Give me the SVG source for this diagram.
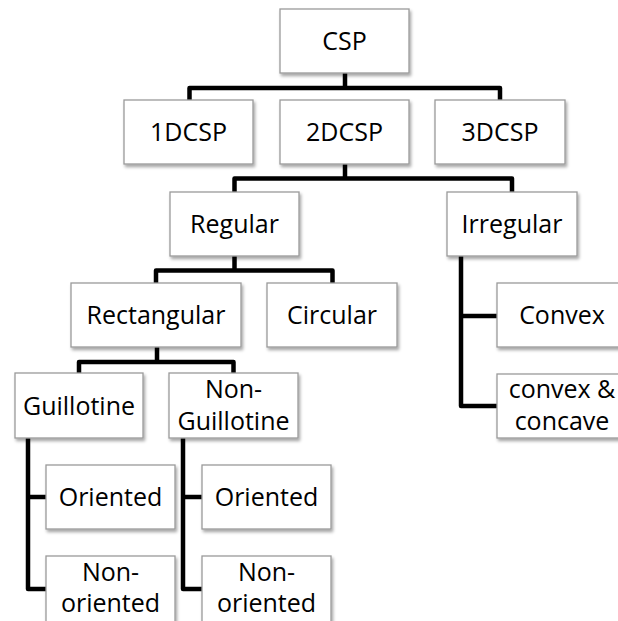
<svg xmlns="http://www.w3.org/2000/svg" width="618" height="621" viewBox="0 0 618 621">
<style>
.box{fill:#ffffff;stroke:#9a9a9a;stroke-width:1.3;filter:url(#sh)}
.lbl{font-family:"Open Sans","Noto Sans",sans-serif;font-size:25px;fill:#000;text-anchor:middle}
.con{fill:none;stroke:#000;stroke-width:4.5;stroke-linejoin:round;stroke-linecap:butt}
</style>
<defs>
<filter id="sh" x="-10%" y="-10%" width="125%" height="135%">
<feDropShadow dx="1.5" dy="2.5" stdDeviation="1.5" flood-color="#000" flood-opacity="0.35"/>
</filter>
</defs>
<rect width="618" height="621" fill="#ffffff"/>
<g id="connectors">
<path class="con" d="M345,73 V88"/>
<path class="con" d="M189.5,100 V88 H500 V100"/>
<path class="con" d="M345,164 V178.5"/>
<path class="con" d="M234.5,192 V178.5 H512 V192"/>
<path class="con" d="M234.5,256 V270.5"/>
<path class="con" d="M156,283 V270.5 H332.5 V283"/>
<path class="con" d="M157,347 V362"/>
<path class="con" d="M79,373 V362 H233.5 V373"/>
<path class="con" d="M28,438 V589 H46"/>
<path class="con" d="M28,497 H46"/>
<path class="con" d="M183,438 V589 H202"/>
<path class="con" d="M183,497 H202"/>
<path class="con" d="M461,256 V406 H497"/>
<path class="con" d="M461,316 H497"/>
</g>
<g id="csp"><rect class="box" x="280" y="9" width="129" height="64"/><text class="lbl" x="344.5" y="50">CSP</text></g>
<g id="d1"><rect class="box" x="124" y="100" width="129" height="64"/><text class="lbl" x="188.5" y="141">1DCSP</text></g>
<g id="d2"><rect class="box" x="280" y="100" width="129" height="64"/><text class="lbl" x="344.5" y="141">2DCSP</text></g>
<g id="d3"><rect class="box" x="435" y="100" width="130" height="64"/><text class="lbl" x="500" y="141">3DCSP</text></g>
<g id="regular"><rect class="box" x="170" y="192" width="129" height="64"/><text class="lbl" x="234.5" y="233">Regular</text></g>
<g id="irregular"><rect class="box" x="447" y="192" width="130" height="64"/><text class="lbl" x="512" y="233">Irregular</text></g>
<g id="rectangular"><rect class="box" x="71" y="283" width="170" height="64"/><text class="lbl" x="156" y="324">Rectangular</text></g>
<g id="circular"><rect class="box" x="267" y="283" width="130" height="64"/><text class="lbl" x="332" y="324">Circular</text></g>
<g id="convex"><rect class="box" x="497" y="283" width="130" height="64"/><text class="lbl" x="562" y="324">Convex</text></g>
<g id="guillotine"><rect class="box" x="15" y="373" width="128" height="65"/><text class="lbl" x="79" y="414.5">Guillotine</text></g>
<g id="nonguillotine"><rect class="box" x="169" y="373" width="129" height="65"/><text class="lbl" x="233.5" y="398">Non-</text><text class="lbl" x="233.5" y="429.5">Guillotine</text></g>
<g id="convexconcave"><rect class="box" x="497" y="374" width="130" height="64"/><text class="lbl" x="562" y="398">convex &amp;</text><text class="lbl" x="562" y="429.5">concave</text></g>
<g id="oriented1"><rect class="box" x="46" y="465" width="129" height="64"/><text class="lbl" x="110.5" y="506">Oriented</text></g>
<g id="oriented2"><rect class="box" x="202" y="465" width="129" height="64"/><text class="lbl" x="266.5" y="506">Oriented</text></g>
<g id="nonoriented1"><rect class="box" x="46" y="556" width="129" height="66"/><text class="lbl" x="110.5" y="581">Non-</text><text class="lbl" x="110.5" y="612">oriented</text></g>
<g id="nonoriented2"><rect class="box" x="202" y="556" width="129" height="66"/><text class="lbl" x="266.5" y="581">Non-</text><text class="lbl" x="266.5" y="612">oriented</text></g>
</svg>
